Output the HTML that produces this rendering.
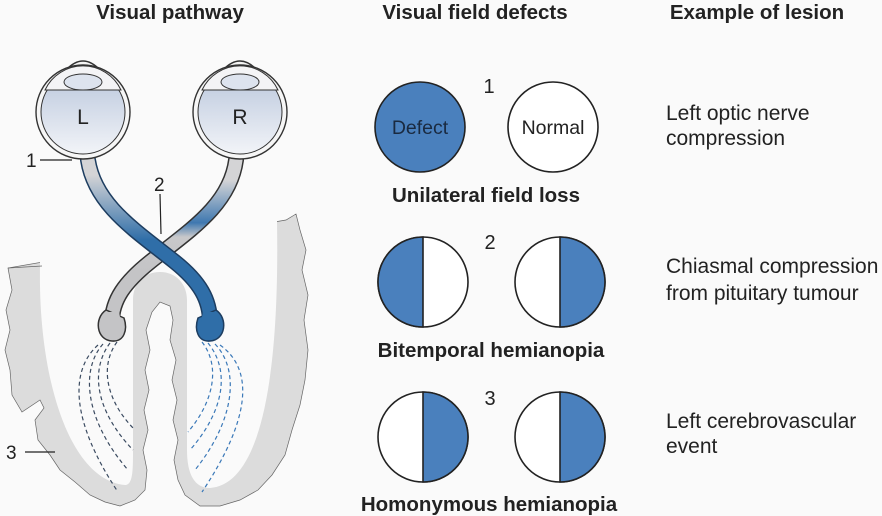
<!DOCTYPE html>
<html><head><meta charset="utf-8"><style>
html,body{margin:0;padding:0;background:#fafafa;}
svg{display:block;}
text{font-family:"Liberation Sans",Arial,sans-serif;}
</style></head><body>
<svg width="882" height="516" viewBox="0 0 882 516" xmlns="http://www.w3.org/2000/svg">
<defs>
<linearGradient id="gL" gradientUnits="userSpaceOnUse" x1="0" y1="175" x2="0" y2="240"><stop offset="0" stop-color="#d4d4d6"/><stop offset="1" stop-color="#2f6ea8"/></linearGradient>
<linearGradient id="gR" gradientUnits="userSpaceOnUse" x1="0" y1="180" x2="0" y2="275"><stop offset="0" stop-color="#d4d4d6"/><stop offset="0.45" stop-color="#3f78b0"/><stop offset="0.6" stop-color="#c8c8ca"/><stop offset="1" stop-color="#c4c4c6"/></linearGradient>
<linearGradient id="eg" x1="0" y1="0" x2="0" y2="1"><stop offset="0" stop-color="#b9c6dc"/><stop offset="1" stop-color="#f2f4f8"/></linearGradient>
</defs>
<rect width="882" height="516" fill="#fafafa"/>

<!-- cortex -->
<path d="M8,268 L12,290 L6,310 L10,330 L5,350 L10,370 L12,395 L22,412 L40,400 L44,408 L35,420 L38,440 L50,455 L60,470 L75,482 L90,495 L105,502 L120,506 L135,500 L145,490 L147,470 L143,450 L148,430 L144,410 L149,390 L145,370 L150,350 L146,330 L152,312 L160,302 L170,306 L173,320 L170,340 L176,360 L172,380 L177,400 L173,420 L178,440 L174,460 L178,480 L185,495 L200,506 L220,506 L240,500 L258,490 L272,475 L285,455 L292,430 L300,405 L305,380 L308,350 L304,320 L308,295 L302,270 L306,250 L300,230 L296,214 L286,220 Z" fill="#dcdcdc" stroke="#666" stroke-width="0.7"/>
<path d="M40,266 C38,380 70,480 125,485 C133,485 133,470 133,450 L133,300 C133,282 145,272 160,272 C176,272 187,284 187,300 L187,450 C187,475 195,488 210,488 C255,485 280,400 277,222 L277,190 L40,190 Z" fill="#fafafa"/>
<path d="M8,268 L42,266" stroke="#666" stroke-width="0.7"/>

<!-- headers -->
<text x="170" y="19" font-size="20.5" font-weight="bold" text-anchor="middle" fill="#222">Visual pathway</text>
<text x="475" y="19" font-size="20.5" font-weight="bold" text-anchor="middle" fill="#222">Visual field defects</text>
<text x="757" y="19" font-size="20.5" font-weight="bold" text-anchor="middle" fill="#222">Example of lesion</text>

<!-- dashed fibres -->
<g fill="none" stroke="#3a4a60" stroke-width="1.2" stroke-dasharray="4,3">
<path d="M98,345 C70,370 70,420 118,492"/>
<path d="M103,344 C80,370 85,420 128,470"/>
<path d="M110,343 C90,370 95,410 133,450"/>
<path d="M117,342 C100,365 105,400 135,430"/>
</g>
<g fill="none" stroke="#3a78b8" stroke-width="1.2" stroke-dasharray="4,3">
<path d="M220,345 C255,370 250,420 202,492"/>
<path d="M215,344 C240,370 235,420 195,470"/>
<path d="M208,343 C230,370 225,410 190,450"/>
<path d="M202,342 C220,365 215,400 188,432"/>
</g>

<!-- nerves -->
<g fill="none" stroke-linecap="round">
<path d="M236,160 C230,205 190,230 150,262 C125,282 112,300 112,322" stroke="#333" stroke-width="16"/>
<path d="M236,160 C230,205 190,230 150,262 C125,282 112,300 112,322" stroke="url(#gR)" stroke-width="13"/>
<path d="M106,310 C94,318 96,340 112,341 C124,342 128,330 124,318 Z" fill="#c4c4c6" stroke="#333" stroke-width="1.5"/>
<path d="M88,160 C95,205 135,230 175,262 C200,282 210,300 210,322" stroke="#1d3d60" stroke-width="16"/>
<path d="M88,160 C95,205 135,230 175,262 C200,282 210,300 210,322" stroke="url(#gL)" stroke-width="13"/>
<path d="M216,310 C228,318 226,340 210,341 C198,342 194,330 198,318 Z" fill="#2f6ea8" stroke="#1d3d60" stroke-width="1.5"/>
<path d="M203,312 L217,312 L219,322 L201,322 Z" fill="#2f6ea8" stroke="none"/>
<path d="M105,312 L119,312 L121,322 L103,322 Z" fill="#c4c4c6" stroke="none"/>
</g>

<!-- eyes -->
<g stroke="#333" stroke-width="1.4">
<path d="M66,70 Q83,52 100,70" fill="#f4f4f4"/>
<circle cx="83" cy="112" r="47" fill="#f6f6f6"/>
<circle cx="83" cy="112" r="42" fill="url(#eg)" stroke-width="1"/>
<path d="M45,90 A42,42 0 0 1 121,90 Z" fill="#f4f4f6" stroke-width="1"/>
<ellipse cx="83" cy="82" rx="19" ry="8" fill="#dde3ee" stroke-width="1"/>
<path d="M223,70 Q240,52 257,70" fill="#f4f4f4"/>
<circle cx="240" cy="112" r="47" fill="#f6f6f6"/>
<circle cx="240" cy="112" r="42" fill="url(#eg)" stroke-width="1"/>
<path d="M202,90 A42,42 0 0 1 278,90 Z" fill="#f4f4f6" stroke-width="1"/>
<ellipse cx="240" cy="82" rx="19" ry="8" fill="#dde3ee" stroke-width="1"/>
</g>
<text x="83" y="124" font-size="21" text-anchor="middle" fill="#222">L</text>
<text x="240" y="124" font-size="21" text-anchor="middle" fill="#222">R</text>

<!-- labels -->
<g stroke="#222" stroke-width="1.2">
<line x1="40" y1="160" x2="72" y2="160"/>
<line x1="160" y1="194" x2="161" y2="234"/>
<line x1="25" y1="452" x2="55" y2="452"/>
</g>
<text x="26" y="167" font-size="19" fill="#222">1</text>
<text x="154" y="191" font-size="19" fill="#222">2</text>
<text x="6" y="459" font-size="19" fill="#222">3</text>

<!-- field circles -->
<g stroke="#222" stroke-width="1.6">
<circle cx="420" cy="127" r="45" fill="#4a80bd"/>
<circle cx="553" cy="127" r="45" fill="#fff"/>
<circle cx="423" cy="282" r="45" fill="#fff"/>
<path d="M423,237 A45,45 0 0 0 423,327 Z" fill="#4a80bd"/>
<circle cx="560" cy="282" r="45" fill="#fff"/>
<path d="M560,237 A45,45 0 0 1 560,327 Z" fill="#4a80bd"/>
<circle cx="423" cy="437" r="45" fill="#fff"/>
<path d="M423,392 A45,45 0 0 1 423,482 Z" fill="#4a80bd"/>
<circle cx="560" cy="437" r="45" fill="#fff"/>
<path d="M560,392 A45,45 0 0 1 560,482 Z" fill="#4a80bd"/>
</g>
<text x="420" y="134" font-size="19.5" text-anchor="middle" fill="#1a2a40">Defect</text>
<text x="553" y="134" font-size="19.5" text-anchor="middle" fill="#222">Normal</text>
<text x="489" y="93" font-size="20" text-anchor="middle" fill="#222">1</text>
<text x="490" y="249" font-size="20" text-anchor="middle" fill="#222">2</text>
<text x="490" y="405" font-size="20" text-anchor="middle" fill="#222">3</text>
<text x="486" y="202" font-size="20.5" font-weight="bold" text-anchor="middle" fill="#222">Unilateral field loss</text>
<text x="491" y="357" font-size="20.5" font-weight="bold" text-anchor="middle" fill="#222">Bitemporal hemianopia</text>
<text x="489" y="511" font-size="20.5" font-weight="bold" text-anchor="middle" fill="#222">Homonymous hemianopia</text>

<!-- lesion text -->
<g font-size="21" fill="#222">
<text x="666" y="120">Left optic nerve</text>
<text x="666" y="145">compression</text>
<text x="666" y="273">Chiasmal compression</text>
<text x="666" y="300">from pituitary tumour</text>
<text x="666" y="428">Left cerebrovascular</text>
<text x="666" y="453">event</text>
</g>
</svg>
</body></html>
